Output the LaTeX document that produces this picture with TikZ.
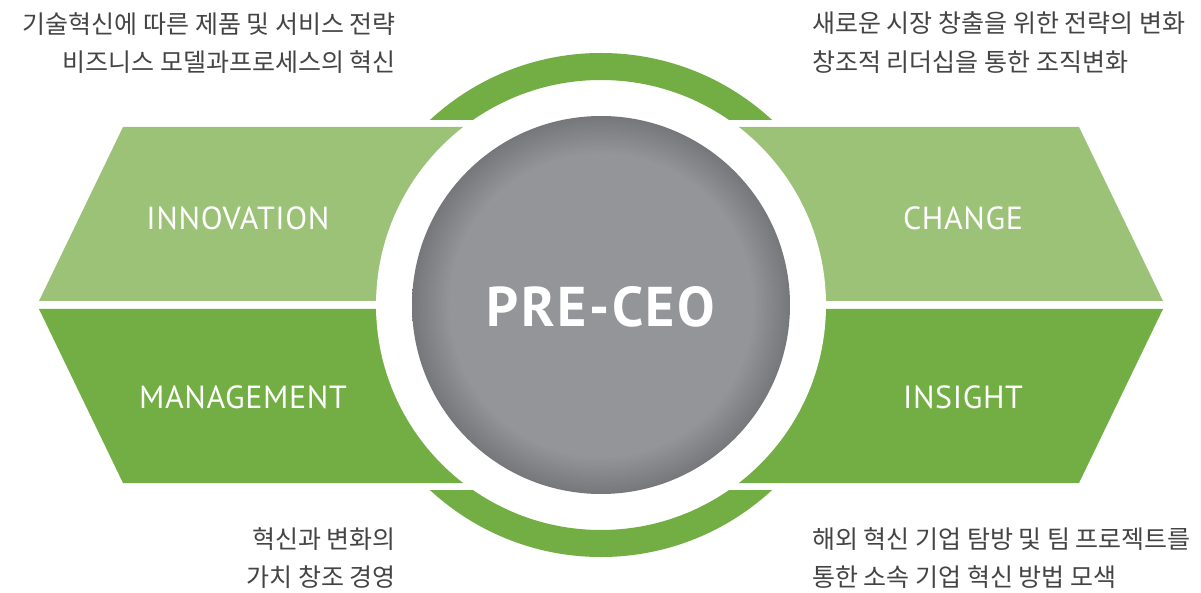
\documentclass[tikz,border=0pt]{standalone}
\usepackage{fontspec}
\setmainfont{PT Sans}
\newfontfamily\labelfont[LetterSpace=2]{PT Sans}
\newfontfamily\corefont[LetterSpace=4.5]{PT Sans}
\newfontfamily\krfont{Noto Sans CJK KR}
\usetikzlibrary{positioning}

\definecolor{lightgreen}{HTML}{9CC278}
\definecolor{darkgreen}{HTML}{72AE44}
\definecolor{coregray}{HTML}{939598}
\definecolor{coreedge}{HTML}{76777A}
\definecolor{textgray}{HTML}{444444}
\pgfdeclareradialshading{coreshade}{\pgfpoint{0bp}{0bp}}{color(0bp)=(coregray); color(20bp)=(coregray); color(25bp)=(coreedge); color(50bp)=(coreedge)}

\begin{document}
\begin{tikzpicture}[x=1pt, y=-1pt,
    label/.style={text=white, inner sep=0pt, font=\labelfont\fontsize{32}{32}\selectfont},
    core/.style={text=white, inner sep=0pt, font=\corefont\bfseries\fontsize{56}{56}\selectfont},
    note/.style={text=textgray, inner sep=0pt, font=\krfont\fontsize{25}{38.5}\selectfont}
]
    \useasboundingbox (0,0) rectangle (1201,593);
    \coordinate (c) at (601,305);

    % the two bands of the hexagon
    \fill[lightgreen] (123,127) -- (1079,127) -- (1163,301) -- (39,301) -- cycle;
    \fill[darkgreen] (39,309) -- (1163,309) -- (1079,483) -- (123,483) -- cycle;

    % ring and core
    \fill[white] (c) circle (225);
    \shade[shading=coreshade] (c) circle (189);

    \begin{scope}
        \clip (0,0) rectangle (1201,120);
        \fill[darkgreen, even odd rule] (c) circle (252) (c) circle (225);
    \end{scope}
    \begin{scope}
        \clip (0,490) rectangle (1201,593);
        \fill[darkgreen, even odd rule] (c) circle (252) (c) circle (225);
    \end{scope}

    \node[core] (preceo) at (601,307) {PRE-CEO};

    \node[label] (innovation) at (238,218) {INNOVATION};
    \node[label] (management) at (243,397) {MANAGEMENT};
    \node[label] (change) at (963,218) {CHANGE};
    \node[label] (insight) at (963,397) {INSIGHT};

    \node[note, align=right, anchor=north east] (innovationnote) at (396,12)
        {기술혁신에 따른 제품 및 서비스 전략\\비즈니스 모델과프로세스의 혁신};
    \node[note, align=left, anchor=north west] (changenote) at (812,12)
        {새로운 시장 창출을 위한 전략의 변화\\창조적 리더십을 통한 조직변화};
    \node[note, align=right, anchor=north east] (managementnote) at (396,527)
        {혁신과 변화의\\가치 창조 경영};
    \node[note, align=left, anchor=north west] (insightnote) at (812,527)
        {해외 혁신 기업 탐방 및 팀 프로젝트를\\통한 소속 기업 혁신 방법 모색};
\end{tikzpicture}
\end{document}
